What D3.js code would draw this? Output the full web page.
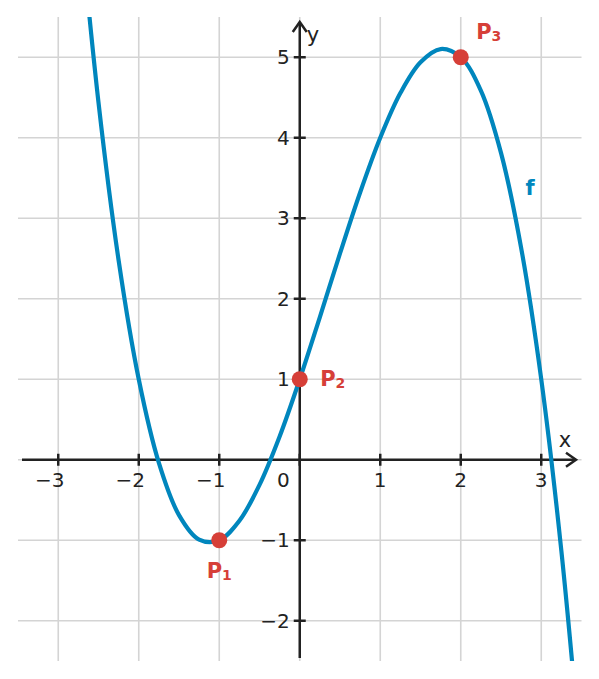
<!DOCTYPE html>
<html><head><meta charset="utf-8">
<script src="https://cdn.jsdelivr.net/npm/d3@7"></script>
<style>body{margin:0;background:#fff}svg{display:block}</style>
</head><body>
<svg id="c" width="599" height="679"></svg>
<script>
// values
const curveX = [-2.75,-2.5,-2.25,-2,-1.75,-1.5,-1.25,-1,-0.75,-0.5,-0.25,0,0.25,0.5,0.75,1,1.25,1.5,1.75,2,2.25,2.5,2.75,3,3.25,3.5];
const curveY = [6.93,4.4375,2.477,1,-0.039,-0.6875,-0.992,-1,-0.758,-0.3125,0.289,1,1.773,2.5625,3.32,4,4.555,4.9375,5.102,5,4.586,3.8125,2.633,1,-1.133,-3.8125];
const pointNames = ["P","P","P"];
const pointSubs = ["1","2","3"];
const pointX = [-1,0,2];
const pointY = [-1,1,5];
const xTicks = [-3,-2,-1,1,2,3];
const yTicks = [-2,-1,1,2,3,4,5];

const svg = d3.select("#c");
const x = d3.scaleLinear().domain([-3.5,3.5]).range([18,581.5]);
const y = d3.scaleLinear().domain([-2.5,5.5]).range([661,17]);
const font = "'DejaVu Sans', sans-serif";
const dark = "#222";
const blue = "#0086bd";
const red = "#d63f38";

svg.append("defs").append("clipPath").attr("id","clip")
  .append("rect").attr("x",18).attr("y",17).attr("width",563.5).attr("height",644);

// grid
const g = svg.append("g");
g.selectAll(".gx").data([-3,-2,-1,0,1,2,3]).join("line")
  .attr("x1",d=>x(d)).attr("x2",d=>x(d)).attr("y1",17).attr("y2",661)
  .attr("stroke","#d4d4d4").attr("stroke-width",1.6);
g.selectAll(".gy").data([-2,-1,0,1,2,3,4,5]).join("line")
  .attr("y1",d=>y(d)).attr("y2",d=>y(d)).attr("x1",18).attr("x2",581.5)
  .attr("stroke","#d4d4d4").attr("stroke-width",1.6);

// axes
svg.append("line").attr("x1",22).attr("x2",576).attr("y1",y(0)).attr("y2",y(0))
  .attr("stroke",dark).attr("stroke-width",2.5);
svg.append("path").attr("d",`M${576-10},${y(0)-7} L576,${y(0)} L${576-10},${y(0)+7}`)
  .attr("fill","none").attr("stroke",dark).attr("stroke-width",2.5).attr("stroke-linejoin","miter");
svg.append("line").attr("y1",658).attr("y2",22).attr("x1",x(0)).attr("x2",x(0))
  .attr("stroke",dark).attr("stroke-width",2.5);
svg.append("path").attr("d",`M${x(0)-7},${22+10} L${x(0)},22 L${x(0)+7},${22+10}`)
  .attr("fill","none").attr("stroke",dark).attr("stroke-width",2.5);

// ticks
svg.selectAll(".tx").data(xTicks.concat([0])).join("line")
  .attr("x1",d=>x(d)).attr("x2",d=>x(d)).attr("y1",y(0)-6).attr("y2",y(0)+6)
  .attr("stroke",dark).attr("stroke-width",2.5);
svg.selectAll(".ty").data(yTicks).join("line")
  .attr("y1",d=>y(d)).attr("y2",d=>y(d)).attr("x1",x(0)-6).attr("x2",x(0)+6)
  .attr("stroke",dark).attr("stroke-width",2.5);

const fmt = d => (d<0?"−":"")+Math.abs(d);
svg.selectAll(".lx").data(xTicks).join("text")
  .attr("x",d=>x(d)+6.3).attr("y",y(0)+27).attr("text-anchor","end")
  .attr("font-family",font).attr("font-size",20).attr("fill",dark).text(fmt);
svg.selectAll(".ly").data(yTicks).join("text")
  .attr("x",x(0)-10).attr("y",d=>y(d)+7).attr("text-anchor","end")
  .attr("font-family",font).attr("font-size",20).attr("fill",dark).text(fmt);
svg.append("text").attr("x",x(0)-10).attr("y",y(0)+27).attr("text-anchor","end")
  .attr("font-family",font).attr("font-size",20).attr("fill",dark).text("0");
svg.append("text").attr("x",565).attr("y",447).attr("text-anchor","middle")
  .attr("font-family",font).attr("font-size",21).attr("fill",dark).text("x");
svg.append("text").attr("x",313).attr("y",42).attr("text-anchor","middle")
  .attr("font-family",font).attr("font-size",21).attr("fill",dark).text("y");

// curve
const pts = curveX.map((v,i)=>[v,curveY[i]]);
svg.append("path").datum(pts).attr("clip-path","url(#clip)")
  .attr("d",d3.line().x(d=>x(d[0])).y(d=>y(d[1])).curve(d3.curveCatmullRom.alpha(0.5)))
  .attr("fill","none").attr("stroke",blue).attr("stroke-width",4.2);
svg.append("text").attr("x",530).attr("y",195).attr("text-anchor","middle")
  .attr("font-family",font).attr("font-weight","bold").attr("font-size",21).attr("fill",blue).text("f");

// points
svg.selectAll(".pt").data(pointX).join("circle")
  .attr("cx",d=>x(d)).attr("cy",(d,i)=>y(pointY[i])).attr("r",8).attr("fill",red);
const lblDx = [0,33,28];
const lblDy = [38,7,-18];
const lbl = svg.selectAll(".pl").data(pointNames).join("text")
  .attr("x",(d,i)=>x(pointX[i])+lblDx[i]).attr("y",(d,i)=>y(pointY[i])+lblDy[i])
  .attr("text-anchor","middle").attr("font-family",font).attr("font-weight","bold")
  .attr("font-size",21).attr("fill",red);
lbl.append("tspan").text(d=>d);
lbl.append("tspan").attr("font-size",14).attr("dy",2).text((d,i)=>pointSubs[i]);
</script>
</body></html>
